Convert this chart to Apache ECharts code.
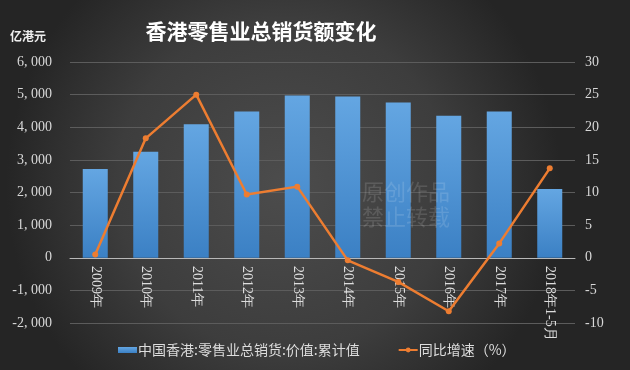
<!DOCTYPE html>
<html><head><meta charset="utf-8">
<script src="https://cdn.jsdelivr.net/npm/echarts@6/dist/echarts.min.js"></script>
<style>html,body{margin:0;padding:0;background:#333;}#c{width:630px;height:370px;}</style>
</head><body><div id="c"></div>
<script>
var categories = ['2009年','2010年','2011年','2012年','2013年','2014年','2015年','2016年','2017年','2018年1-5月'];
var salesValues = [2720, 3250, 4090, 4480, 4970, 4940, 4755, 4356, 4480, 2107];
var growthValues = [0.5, 18.3, 25.0, 9.7, 10.9, -0.4, -3.7, -8.2, 2.2, 13.7];
var barName = '中国香港:零售业总销货:价值:累计值';
var lineName = '同比增速（%）';
var titleText = '香港零售业总销货额变化';
var unitText = '亿港元';

function fmtThousands(v){
  var s = Math.abs(v).toString();
  var out = s.replace(/\B(?=(\d{3})+(?!\d))/g, ', ');
  return (v < 0 ? '-' : '') + out;
}

var chart = echarts.init(document.getElementById('c'), null, {renderer:'canvas'});
var serif = '"Liberation Serif","DejaVu Serif",serif';
chart.setOption({
  backgroundColor: {type:'radial', x:0.45, y:0.5, r:0.75, colorStops:[{offset:0,color:'#4c4c4c'},{offset:0.6,color:'#3d3d3d'},{offset:1,color:'#252525'}]},
  animation:false,
  title:[{text:titleText, left:256, top:16, textAlign:'center', textStyle:{color:'#ffffff', fontSize:21, fontWeight:'bold', fontFamily:'"Noto Sans CJK SC",sans-serif'}},
         {text:unitText, left:5, top:25, textStyle:{color:'#eeeeee', fontSize:12, fontWeight:'bold', fontFamily:'"Noto Sans CJK SC",sans-serif'}}],
  graphic:[
    {type:'text', left:362, top:181, z:100, style:{text:'原创作品', fill:'rgba(255,255,255,0.13)', font:'22px "Noto Sans CJK SC"'}},
    {type:'text', left:362, top:206, z:100, style:{text:'禁止转载', fill:'rgba(255,255,255,0.13)', font:'22px "Noto Sans CJK SC"'}}
  ],
  legend:{left:113, top:338, itemGap:38, itemWidth:19, itemHeight:6,
    textStyle:{color:'#dddddd', fontSize:14, fontFamily:'"Noto Sans CJK SC",sans-serif', padding:[0,0,0,-4]},
    data:[{name:barName, icon:'rect'},{name:lineName}]},
  grid:{left:70, right:55, top:62, bottom:47, containLabel:false, outerBoundsMode:'none'},
  xAxis:{type:'category', data:categories, offset:-65,
    axisLine:{onZero:false, lineStyle:{color:'#b8b8b8', width:1}},
    axisTick:{show:false},
    axisLabel:{rotate:-90, margin:8, color:'#dddddd', fontSize:14, fontFamily:serif, interval:0}},
  yAxis:[
    {type:'value', min:-2000, max:6000, interval:1000,
     axisLine:{show:false}, axisTick:{show:false},
     splitLine:{lineStyle:{color:'#5c5c5c', width:1}},
     axisLabel:{margin:18, color:'#d8d8d8', fontSize:14, fontFamily:serif, formatter:fmtThousands}},
    {type:'value', min:-10, max:30, interval:5,
     axisLine:{show:false}, axisTick:{show:false}, splitLine:{show:false},
     axisLabel:{margin:10, color:'#d8d8d8', fontSize:14, fontFamily:serif}}
  ],
  series:[
    {name:barName, type:'bar', data:salesValues, barWidth:25, yAxisIndex:0,
     itemStyle:{color:{type:'linear', x:0,y:0,x2:0,y2:1, colorStops:[{offset:0,color:'#64a6e2'},{offset:1,color:'#3b80c4'}]}}},
    {name:lineName, type:'line', data:growthValues, yAxisIndex:1, z:5,
     symbol:'circle', symbolSize:6,
     lineStyle:{color:'#ed7d31', width:2.5}, itemStyle:{color:'#ed7d31'}}
  ]
});
</script></body></html>
